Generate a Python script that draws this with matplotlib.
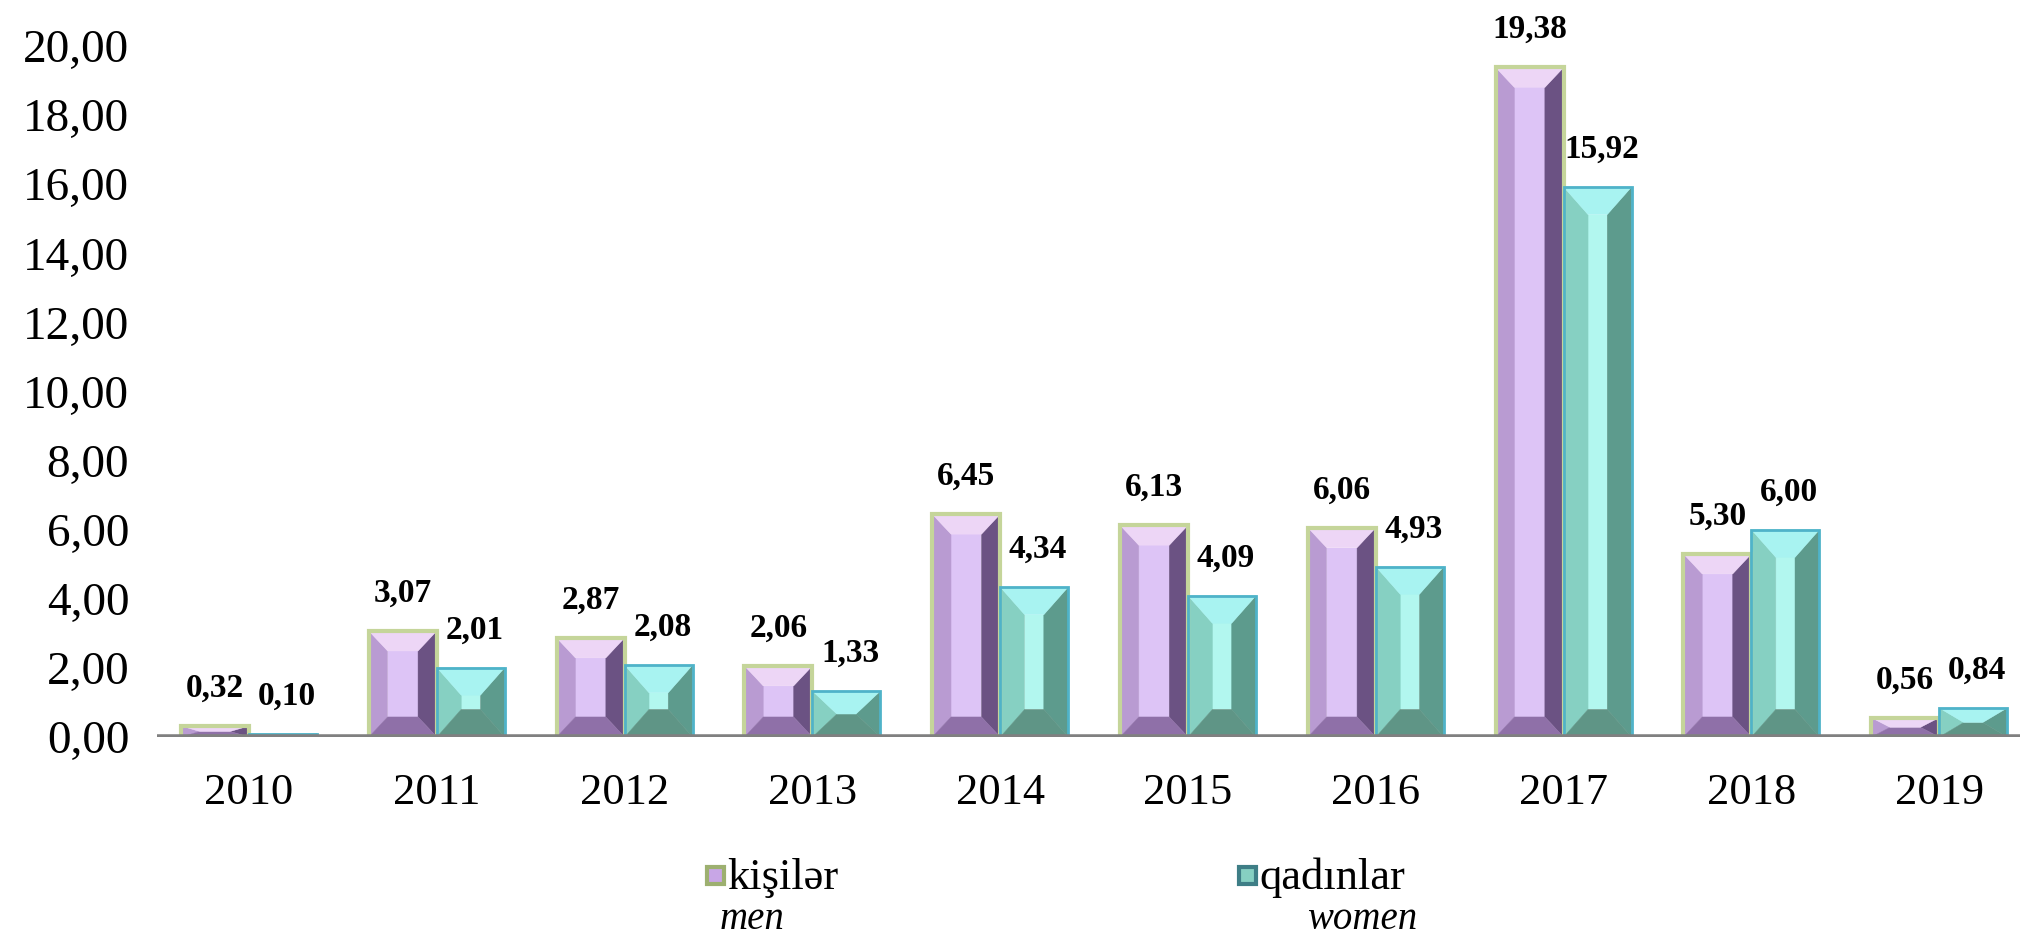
import matplotlib
matplotlib.use("Agg")
import matplotlib.pyplot as plt
from matplotlib.patches import Polygon, Rectangle
import numpy as np

plt.rcParams['font.family'] = ['Liberation Serif', 'DejaVu Serif']

years = ['2010', '2011', '2012', '2013', '2014', '2015', '2016', '2017', '2018', '2019']
men = [0.32, 3.07, 2.87, 2.06, 6.45, 6.13, 6.06, 19.38, 5.30, 0.56]
women = [0.10, 2.01, 2.08, 1.33, 4.34, 4.09, 4.93, 15.92, 6.00, 0.84]
yticks = [0, 2, 4, 6, 8, 10, 12, 14, 16, 18, 20]

W, H = 2020, 939
fig = plt.figure(figsize=(W / 100, H / 100), dpi=100)
ax = fig.add_axes([157 / W, 1 - 737 / H, (W - 157) / W, (737 - 46) / H])
ax.set_xlim(-0.49, 9.43)
ax.set_ylim(0, 20)

bw = 0.362
men_cols = dict(top='#EDD6F6', left='#B99BD2', center='#DDC4F6', right='#6B5283',
                bottom='#8F70A8', edge='#C5D59A')
wom_cols = dict(top='#A8F3F1', left='#86D0C2', center='#B2F7EF', right='#5D9B8D',
                bottom='#5F9586', edge='#4FB3C9')


def bevel_bar(x0, w, h, bx, by, c, edge_lw):
    by = min(by, h / 2)
    bx = min(bx, w / 2)
    x1 = x0 + w
    facets = [
        ([(x0, 0), (x0, h), (x0 + bx, h - by), (x0 + bx, by)], c['left']),
        ([(x1, 0), (x1, h), (x1 - bx, h - by), (x1 - bx, by)], c['right']),
        ([(x0, 0), (x1, 0), (x1 - bx, by), (x0 + bx, by)], c['bottom']),
        ([(x0, h), (x1, h), (x1 - bx, h - by), (x0 + bx, h - by)], c['top']),
    ]
    if h - 2 * by > 0 and w - 2 * bx > 0:
        ax.add_patch(Rectangle((x0 + bx, by), w - 2 * bx, h - 2 * by,
                               facecolor=c['center'], edgecolor='none', zorder=2))
    for pts, col in facets:
        ax.add_patch(Polygon(pts, closed=True, facecolor=col, edgecolor=col,
                             lw=0.3, zorder=2))
    ax.add_patch(Rectangle((x0, 0), w, h, facecolor='none', edgecolor=c['edge'],
                           lw=edge_lw, zorder=3))


for i, (m, f) in enumerate(zip(men, women)):
    bevel_bar(i - bw, bw, m, 0.10, 0.58, men_cols, 3.0)
    bevel_bar(i, bw, f, 0.13, 0.80, wom_cols, 2.0)
    lab_m = f"{m:.2f}".replace('.', ',')
    lab_f = f"{f:.2f}".replace('.', ',')
    ax.annotate(lab_m, (i - bw / 2, m), xytext=(0, 16), textcoords='offset points',
                ha='center', va='bottom', fontsize=24, fontweight='bold',
                annotation_clip=False, zorder=5)
    ax.annotate(lab_f, (i + bw / 2 + 0.02, f), xytext=(0, 16), textcoords='offset points',
                ha='center', va='bottom', fontsize=24, fontweight='bold',
                annotation_clip=False, zorder=5)

ax.axhline(0, color='#808080', lw=4, zorder=4)

for s in ax.spines.values():
    s.set_visible(False)
ax.set_yticks(yticks)
ax.set_yticklabels([f"{v:.2f}".replace('.', ',') for v in yticks], fontsize=34)
ax.set_xticks(np.arange(len(years)))
ax.set_xticklabels(years, fontsize=32)
ax.tick_params(axis='y', length=0, pad=20)
ax.tick_params(axis='x', length=0, pad=26)

# Title (cut off at top edge in the reference: only its lowest pixels show)
fig.text(1075 / W, 1 + 14 / H, "by sexes, in percentage", ha='center', va='baseline',
         fontsize=30, fontweight='bold')

# Legend
def legend_item(x_marker, text, sub, x_sub, c_edge, c_face):
    ax_y = 1 - 878 / H
    fig.patches.append(Rectangle((x_marker / W, ax_y - 6 / H), 17 / W, 17 / H,
                                 transform=fig.transFigure, facecolor=c_face,
                                 edgecolor=c_edge, lw=3, figure=fig))
    fig.text((x_marker + 20) / W, ax_y, text, ha='left', va='center', fontsize=32)
    fig.text(x_sub / W, 1 - 938 / H, sub, ha='center', va='bottom', fontsize=28,
             style='italic')


legend_item(707, "kişilər", "men", 752, '#9DB070', '#C8A6E6')
legend_item(1239, "qadınlar", "women", 1362, '#3E7E86', '#86D0C2')

fig.savefig("out.png", dpi=100)
